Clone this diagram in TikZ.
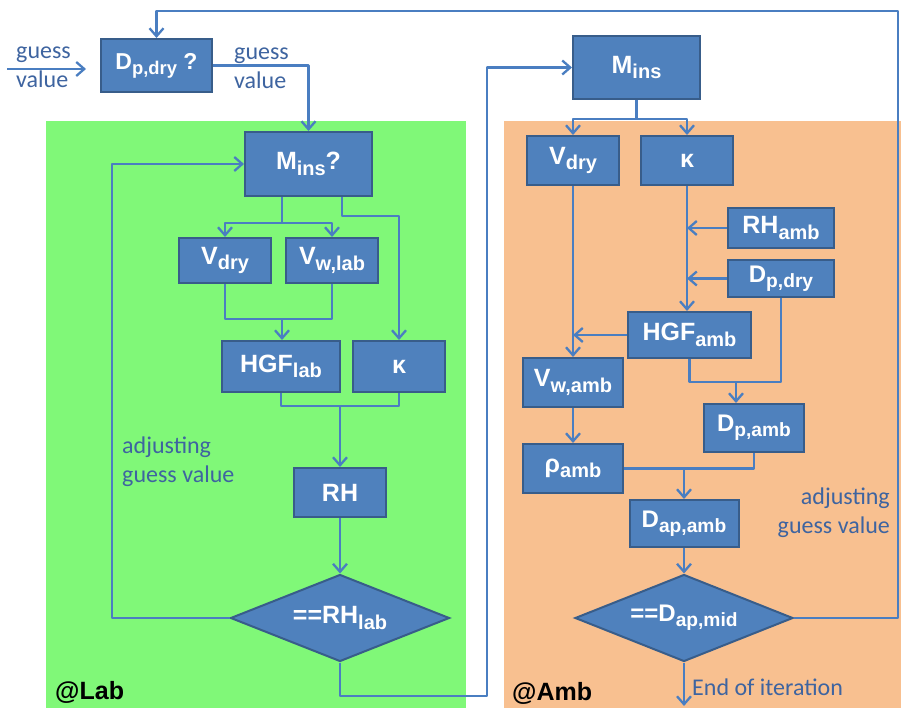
\documentclass[tikz,border=0pt]{standalone}
\usepackage{fontspec}
\usepackage{graphicx}
\setmainfont{Carlito}
\newfontfamily\boxfont{Liberation Sans}
\usetikzlibrary{arrows.meta,shapes.geometric}
\definecolor{boxfill}{RGB}{79,129,189}
\definecolor{boxline}{RGB}{56,93,138}
\definecolor{wirecol}{RGB}{74,126,193}
\definecolor{labgreen}{RGB}{128,248,120}
\definecolor{ambpeach}{RGB}{248,192,144}
\definecolor{notecol}{RGB}{62,100,160}
% lowered, smaller index text inside the boxes
\newcommand\sbs[1]{\raisebox{-0.22em}{\scalebox{0.8}{#1}}}
\newcommand\fsz[1]{\fontsize{#1}{#1}\selectfont}

\begin{document}
\begin{tikzpicture}[x=1pt,y=-1pt,
  blk/.style={draw=boxline, fill=boxfill, line width=2pt, text=white,
    font=\boxfont\bfseries\fsz{#1}, inner sep=0pt, anchor=center},
  blk/.default=25,
  dec/.style={blk=#1, diamond, aspect=2.5},
  dec/.default=25,
  wire/.style={draw=wirecol, line width=2.3pt, line join=round},
  arr/.style={wire, -{Straight Barb[length=8pt,width=14pt]}},
  note/.style={text=notecol, font=\fontsize{24}{29}\selectfont, inner sep=0pt},
  tag/.style={text=black, font=\boxfont\bfseries\fsz{25}, inner sep=0pt, anchor=west}]

% canvas and the two regions
\fill[white] (0,0) rectangle (901,708);
\useasboundingbox (0,0) rectangle (901,708);
\fill[labgreen] (46,121) rectangle (466,708);
\fill[ambpeach] (504,121) rectangle (901,708);

% guess box
\node[blk=23, minimum width=111pt, minimum height=53pt] (dq) at (156.5,65.5) {D\sbs{p,dry} ?};

% laboratory branch
\node[blk, minimum width=127pt, minimum height=64pt] (mq) at (308.5,164) {M\sbs{ins}?};
\node[blk, minimum width=92pt, minimum height=45pt] (vd1) at (225,260.5) {V\sbs{dry}};
\node[blk, minimum width=92pt, minimum height=45pt] (vw1) at (332,260.5) {V\sbs{w,lab}};
\node[blk, minimum width=118pt, minimum height=51pt] (hgf1) at (281,366.5) {HGF\sbs{lab}};
\node[blk, minimum width=92pt, minimum height=51pt] (k1) at (399,366.5) {κ};
\node[blk, minimum width=92pt, minimum height=49pt] (rh) at (340,492.5) {RH};
\node[dec, minimum width=219pt, minimum height=87pt] (d1) at (340,618) {==RH\sbs{lab}};

% ambient branch
\node[blk, minimum width=127pt, minimum height=63pt] (m2) at (636.5,67.5) {M\sbs{ins}};
\node[blk, minimum width=92pt, minimum height=49pt] (vd2) at (573,160.5) {V\sbs{dry}};
\node[blk, minimum width=92pt, minimum height=49pt] (k2) at (687,160.5) {κ};
\node[blk, minimum width=106pt, minimum height=40pt] (rha) at (781,228) {RH\sbs{amb}};
\node[blk=24, minimum width=106pt, minimum height=37pt] (dpd) at (781,278.5) {D\sbs{p,dry}};
\node[blk, minimum width=123pt, minimum height=46pt] (hgf2) at (689.5,335) {HGF\sbs{amb}};
\node[blk, minimum width=100pt, minimum height=49pt] (vwa) at (573,382.5) {V\sbs{w,amb}};
\node[blk, minimum width=100pt, minimum height=49pt] (rho) at (573,468.5) {ρ\sbs{amb}};
\node[blk=24, minimum width=100pt, minimum height=48pt] (dpa) at (754,428) {D\sbs{p,amb}};
\node[blk=24, minimum width=109pt, minimum height=47pt] (dapa) at (684,523.5) {D\sbs{ap,amb}};
\node[dec=24, minimum width=218pt, minimum height=87pt] (d2) at (684,618) {==D\sbs{ap,mid}};

% text labels
\node[note, anchor=west, align=left] (g1) at (16,67) {guess\\value};
\node[note, anchor=west, align=left] (g2) at (234,68) {guess\\value};
\node[note, anchor=west, align=left] (adj1) at (122,462) {adjusting\\guess value};
\node[note, anchor=east, align=right] (adj2) at (890,513) {adjusting\\guess value};
\node[note, anchor=west] (eoi) at (692,687) {End of iteration};
\node[tag] (tlab) at (55,692) {@Lab};
\node[tag] (tamb) at (512,693) {@Amb};

% free ends and junctions
\coordinate (gin0) at (7,69);
\coordinate (gin1) at (86,69);
\coordinate (loopR) at (898,11);
\coordinate (loopL) at (112,164);
\coordinate (splitA) at (282,223);
\coordinate (splitB) at (342,216);
\coordinate (joinV) at (282,319);
\coordinate (joinH) at (340,406);
\coordinate (cross) at (487,696);
\coordinate (splitM) at (636.5,119);
\coordinate (joinD) at (736,382);
\coordinate (stop) at (684,706);

% connectors
\draw[arr] (gin0) -- (gin1);
\draw[arr] (dq.east) -| (mq.north);
\draw[arr] (d2.east) -| (loopR) -| (dq.north);
\draw[arr] (d1.west) -| (loopL) -- (mq.west);

\draw[wire] (mq.south -| splitA) -- (splitA);
\draw[arr] (splitA) -| (vd1.north);
\draw[arr] (splitA) -| (vw1.north);
\draw[arr] (mq.south -| splitB) -- (splitB) -| (k1.north);
\draw[wire] (vd1.south) |- (joinV) -| (vw1.south);
\draw[arr] (joinV) -- (joinV |- hgf1.north);
\draw[wire] (hgf1.south) |- (joinH) -| (k1.south);
\draw[arr] (joinH) -- (rh.north);
\draw[arr] (rh.south) -- (d1.north);
\draw[arr] (d1.south) |- (cross) |- (m2.west);

\draw[wire] (m2.south) -- (splitM);
\draw[arr] (splitM) -| (vd2.north);
\draw[arr] (splitM) -| (k2.north);
\draw[arr] (k2.south) -- (k2.south |- hgf2.north);
\draw[arr] (rha.west) -- (rha.west -| k2.south);
\draw[arr] (dpd.west) -- (dpd.west -| k2.south);
\draw[arr] (hgf2.west) -- (hgf2.west -| vd2.south);
\draw[arr] (vd2.south) -- (vwa.north);
\draw[arr] (vwa.south) -- (rho.north);
\draw[wire] (hgf2.south) |- (joinD) -| (dpd.south);
\draw[arr] (joinD) -- (joinD |- dpa.north);
\draw[wire] (rho.east) -| (dpa.south);
\draw[arr] (rho.east -| dapa.north) -- (dapa.north);
\draw[arr] (dapa.south) -- (d2.north);
\draw[arr] (d2.south) -- (stop);
\end{tikzpicture}
\end{document}
